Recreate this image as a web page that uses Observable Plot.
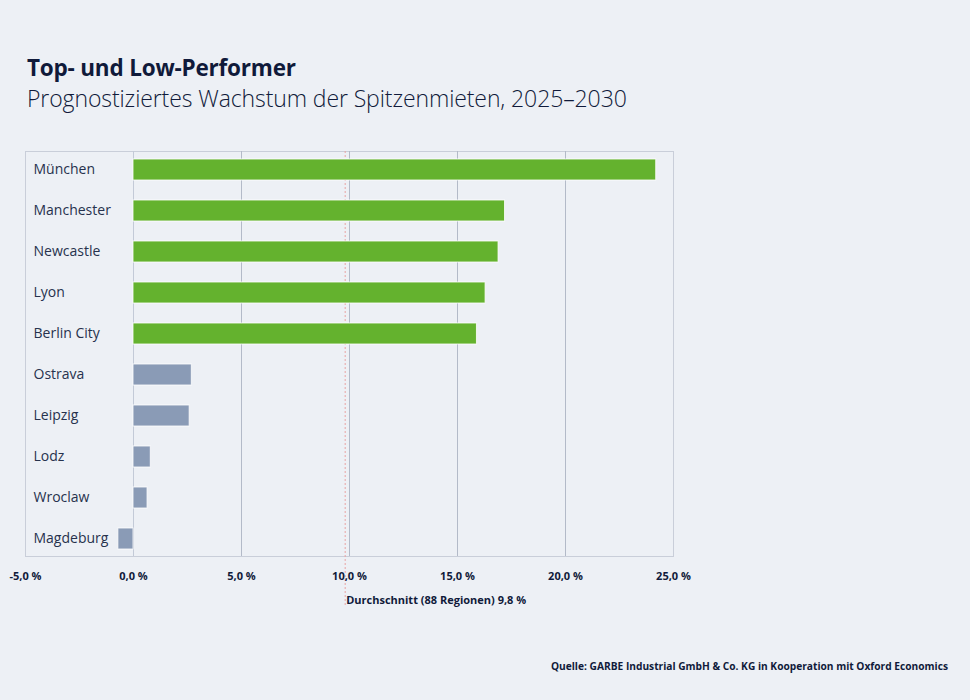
<!DOCTYPE html>
<html><head><meta charset="utf-8">
<script src="https://cdn.jsdelivr.net/npm/d3@7"></script>
<script src="https://cdn.jsdelivr.net/npm/@observablehq/plot@0.6"></script>
<style>
html,body{margin:0;padding:0;background:#edf0f5;}
#wrap{position:relative;width:970px;height:700px;overflow:hidden;font-family:"Open Sans",sans-serif;color:#101a3a;}
#title{position:absolute;left:27px;top:52px;font-size:22.5px;font-weight:700;letter-spacing:-0.2px;}
#subtitle{position:absolute;left:27px;top:82px;font-size:23px;font-weight:300;letter-spacing:-0.1px;}
#caption{position:absolute;right:22px;top:659px;font-size:10.2px;font-weight:700;}
#chart{position:absolute;left:0;top:0;}
</style></head>
<body><div id="wrap">
<div id="chart"></div>
<div id="title">Top- und Low-Performer</div>
<div id="subtitle">Prognostiziertes Wachstum der Spitzenmieten, 2025–2030</div>
<div id="caption">Quelle: GARBE Industrial GmbH &amp; Co. KG in Kooperation mit Oxford Economics</div>
</div>
<script>
const cities = ["München","Manchester","Newcastle","Lyon","Berlin City","Ostrava","Leipzig","Lodz","Wroclaw","Magdeburg"];
const growth = [24.2, 17.2, 16.9, 16.3, 15.9, 2.7, 2.6, 0.8, 0.65, -0.7];
const group = ["top","top","top","top","top","low","low","low","low","low"];
const ticks = [-5, 0, 5, 10, 15, 20, 25];
const gridTicks = [5, 10, 15, 20];
const average = 9.8;
const averageLabel = "Durchschnitt (88 Regionen) 9,8 %";

const data = cities.map((c, i) => ({city: c, value: growth[i], group: group[i]}));
const fmt = d => d.toFixed(1).replace(".", ",") + " %";

const plot = Plot.plot({
  width: 970,
  height: 700,
  marginTop: 151,
  marginBottom: 144,
  marginLeft: 25,
  marginRight: 297,
  style: {background: "transparent", fontFamily: "Open Sans, sans-serif"},
  x: {domain: [-5, 25], ticks: ticks, tickFormat: fmt, label: null, axis: null},
  y: {domain: cities, paddingInner: 0.49, paddingOuter: 0.17, axis: null},
  color: {domain: ["top","low"], range: ["#64b22e","#8a9bb6"]},
  marks: [
    Plot.frame({stroke: "#c9ced9", strokeWidth: 1}),
    Plot.ruleX(gridTicks, {stroke: "#b3bac8", strokeWidth: 1}),
    Plot.ruleX([0], {stroke: "#c3cad7", strokeWidth: 1}),
    Plot.ruleX([average], {stroke: "#e9a4a4", strokeWidth: 1, strokeDasharray: "2,2", insetBottom: -50}),
    Plot.barX(data, {x: "value", y: "city", fill: "group", stroke: "#ffffff", strokeWidth: 1, strokeOpacity: 0.8}),
    Plot.text(cities, {x: -5, y: d => d, text: d => d, textAnchor: "start", dx: 8, fontSize: 14, fill: "#27324d"}),
    Plot.axisX({ticks: ticks, tickFormat: fmt, tickSize: 0, tickPadding: 16, fontSize: 11, fontWeight: "bold", fill: "#101a3a", label: null}),
    Plot.text([averageLabel], {x: average, frameAnchor: "bottom", dy: 47, textAnchor: "start", dx: 1, fontSize: 11, fontWeight: "bold", fill: "#101a3a"})
  ]
});
document.getElementById("chart").appendChild(plot);
</script>
</body></html>
